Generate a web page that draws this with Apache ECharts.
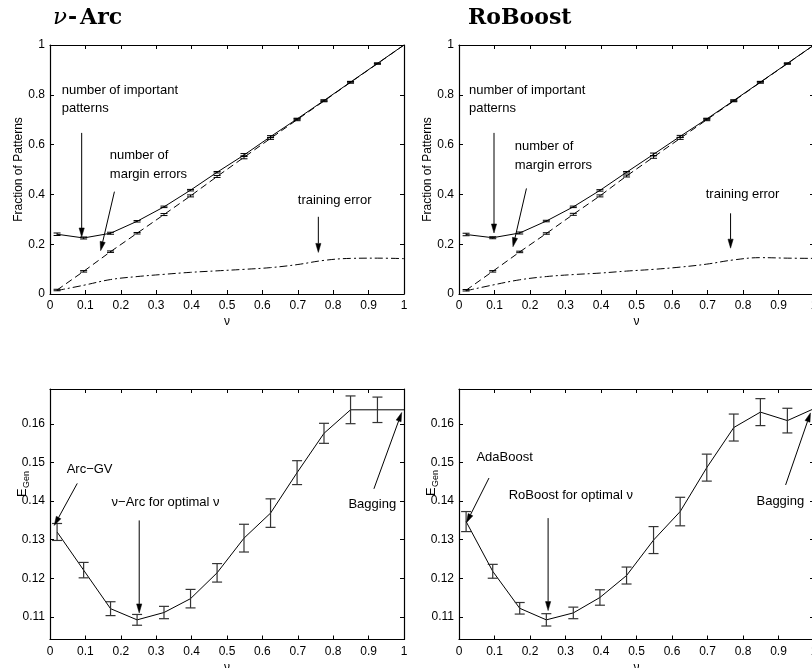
<!DOCTYPE html>
<html>
<head>
<meta charset="utf-8">
<script src="https://cdn.jsdelivr.net/npm/echarts@6/dist/echarts.min.js"></script>
<style>
  html, body { margin: 0; padding: 0; background: #fff; }
  #chart { width: 812px; height: 668px; }
</style>
</head>
<body>
<div id="chart"></div>
<script>
// ν values at which the boosting runs were evaluated
const nu = [0.02, 0.095, 0.171, 0.246, 0.322, 0.397, 0.472, 0.548, 0.623, 0.698, 0.774, 0.849, 0.925, 1.0];

// ν-Arc: fraction of important patterns, margin errors and training error
const arcImportant    = [0.240, 0.225, 0.244, 0.292, 0.350, 0.417, 0.489, 0.558, 0.632, 0.703, 0.777, 0.851, 0.926, 1.0];
const arcImportantErr = [0.005, 0.004, 0.004, 0.003, 0.003, 0.003, 0.003, 0.006, 0.004, 0.003, 0.003, 0.003, 0.002, 0];
const arcMargin       = [0.016, 0.091, 0.170, 0.244, 0.319, 0.394, 0.472, 0.549, 0.625, 0.700, 0.775, 0.850, 0.925, 1.0];
const arcMarginErr    = [0.003, 0.003, 0.003, 0.003, 0.004, 0.004, 0.004, 0.006, 0.004, 0.004, 0.003, 0.003, 0.002, 0];
const arcTrain        = [0.014, 0.035, 0.058, 0.070, 0.079, 0.087, 0.093, 0.099, 0.106, 0.118, 0.135, 0.143, 0.144, 0.142];

// RoBoost: same quantities
const roImportant    = [0.239, 0.226, 0.245, 0.293, 0.350, 0.416, 0.489, 0.561, 0.633, 0.703, 0.777, 0.851, 0.926, 1.0];
const roImportantErr = [0.005, 0.004, 0.004, 0.003, 0.003, 0.003, 0.003, 0.005, 0.004, 0.003, 0.003, 0.003, 0.002, 0];
const roMargin       = [0.015, 0.091, 0.169, 0.243, 0.320, 0.394, 0.474, 0.550, 0.625, 0.700, 0.775, 0.850, 0.925, 1.0];
const roMarginErr    = [0.003, 0.003, 0.003, 0.003, 0.004, 0.004, 0.004, 0.005, 0.004, 0.004, 0.003, 0.003, 0.002, 0];
const roTrain        = [0.013, 0.036, 0.057, 0.070, 0.078, 0.084, 0.092, 0.099, 0.108, 0.120, 0.137, 0.146, 0.144, 0.143];

// Generalization error with standard error bars
const arcGen    = [0.1320, 0.1221, 0.1121, 0.1092, 0.1111, 0.1147, 0.1214, 0.1304, 0.1369, 0.1474, 0.1576, 0.1637, 0.1637, 0.1637];
const arcGenErr = [0.0022, 0.0020, 0.0018, 0.0014, 0.0016, 0.0024, 0.0024, 0.0036, 0.0037, 0.0031, 0.0026, 0.0036, 0.0033, 0];
const roGen     = [0.1347, 0.1218, 0.1122, 0.1092, 0.1110, 0.1150, 0.1207, 0.1299, 0.1373, 0.1487, 0.1591, 0.1631, 0.1609, 0.1640];
const roGenErr  = [0.0026, 0.0018, 0.0015, 0.0016, 0.0015, 0.0020, 0.0022, 0.0035, 0.0037, 0.0035, 0.0035, 0.0035, 0.0032, 0];

// tick labels
const nuTicks   = [0, 0.1, 0.2, 0.3, 0.4, 0.5, 0.6, 0.7, 0.8, 0.9, 1];
const fracTicks = [0, 0.2, 0.4, 0.6, 0.8, 1];
const genTicks  = [0.11, 0.12, 0.13, 0.14, 0.15, 0.16];

const FONT = '"Liberation Sans", Arial, Helvetica, sans-serif';
const INK = '#000';

const grids = [
  { left: 50,  top: 45,  width: 354, height: 249 },
  { left: 459, top: 45,  width: 355, height: 249 },
  { left: 50,  top: 389, width: 354, height: 250.5 },
  { left: 459, top: 389, width: 355, height: 250.5 }
];

const fmt = v => String(parseFloat(Number(v).toFixed(2)));

const xAxes = [];
const yAxes = [];
grids.forEach((g, i) => {
  const upper = i < 2;
  const frame = { show: true, onZero: false, lineStyle: { color: INK, width: 1.2 } };
  const tick = { inside: true, length: 4, lineStyle: { color: INK, width: 1 } };
  xAxes.push({
    type: 'value', gridIndex: i, position: 'bottom', min: 0, max: 1,
    axisLine: frame,
    axisTick: Object.assign({ customValues: nuTicks }, tick),
    axisLabel: { customValues: nuTicks, color: INK, fontFamily: FONT, fontSize: 12, margin: 6, formatter: fmt },
    splitLine: { show: false },
    name: 'ν', nameLocation: 'middle', nameGap: 22,
    nameTextStyle: { color: INK, fontFamily: FONT, fontSize: 12 }
  });
  xAxes.push({
    type: 'value', gridIndex: i, position: 'top', min: 0, max: 1,
    axisLine: frame,
    axisTick: Object.assign({ customValues: nuTicks }, tick),
    axisLabel: { show: false },
    splitLine: { show: false }
  });
  const yTicks = upper ? fracTicks : genTicks;
  const yMin = upper ? 0 : 0.1041;
  const yMax = upper ? 1 : 0.1691;
  yAxes.push({
    type: 'value', gridIndex: i, position: 'left', min: yMin, max: yMax,
    axisLine: frame,
    axisTick: Object.assign({ customValues: yTicks }, tick),
    axisLabel: { customValues: yTicks, color: INK, fontFamily: FONT, fontSize: 12, margin: 5, formatter: fmt },
    splitLine: { show: false },
    name: upper ? 'Fraction of Patterns' : '',
    nameLocation: 'middle', nameGap: i === 0 ? 20 : 22,
    nameTextStyle: { color: INK, fontFamily: FONT, fontSize: 12 }
  });
  yAxes.push({
    type: 'value', gridIndex: i, position: 'right', min: yMin, max: yMax,
    axisLine: frame,
    axisTick: Object.assign({ customValues: yTicks }, tick),
    axisLabel: { show: false },
    splitLine: { show: false }
  });
});

function errorBars(cap, color, width) {
  return function (params, api) {
    const x = api.value(0), y = api.value(1), e = api.value(2);
    const hi = api.coord([x, y + e]);
    const lo = api.coord([x, y - e]);
    const st = { stroke: color, lineWidth: width };
    return {
      type: 'group',
      children: [
        { type: 'line', shape: { x1: hi[0], y1: hi[1], x2: lo[0], y2: lo[1] }, style: st },
        { type: 'line', shape: { x1: hi[0] - cap, y1: hi[1], x2: hi[0] + cap, y2: hi[1] }, style: st },
        { type: 'line', shape: { x1: lo[0] - cap, y1: lo[1], x2: lo[0] + cap, y2: lo[1] }, style: st }
      ]
    };
  };
}

function pairs(vals) { return nu.map((x, i) => [x, vals[i]]); }
function triples(vals, errs) {
  return nu.map((x, i) => [x, vals[i], errs[i]]).filter(d => d[2] > 0);
}

function curve(g, vals, type, smooth) {
  return {
    type: 'line', xAxisIndex: 2 * g, yAxisIndex: 2 * g,
    data: pairs(vals), symbol: 'none', smooth: smooth || false,
    lineStyle: { color: INK, width: 1, type: type },
    silent: true, animation: false, z: 3
  };
}
function bars(g, vals, errs, cap, color, width) {
  return {
    type: 'custom', xAxisIndex: 2 * g, yAxisIndex: 2 * g,
    data: triples(vals, errs), encode: { x: 0, y: 1 },
    renderItem: errorBars(cap, color, width),
    silent: true, animation: false, z: 4
  };
}

const DASH = [7, 4];
const DASHDOT = [8, 3, 2, 3];

const series = [
  curve(0, arcImportant, 'solid'),
  bars(0, arcImportant, arcImportantErr, 3.5, INK, 1),
  curve(0, arcMargin, DASH),
  bars(0, arcMargin, arcMarginErr, 3.5, INK, 1),
  curve(0, arcTrain, DASHDOT, 0.4),

  curve(1, roImportant, 'solid'),
  bars(1, roImportant, roImportantErr, 3.5, INK, 1),
  curve(1, roMargin, DASH),
  bars(1, roMargin, roMarginErr, 3.5, INK, 1),
  curve(1, roTrain, DASHDOT, 0.4),

  curve(2, arcGen, 'solid'),
  bars(2, arcGen, arcGenErr, 5, '#333', 1.2),

  curve(3, roGen, 'solid'),
  bars(3, roGen, roGenErr, 5, '#333', 1.2)
];

const chart = echarts.init(document.getElementById('chart'), null, { renderer: 'canvas' });
chart.setOption({
  backgroundColor: '#fff',
  animation: false,
  // fixed panel boxes: labels may run past the canvas edge without resizing the plots
  grid: grids.map(g => Object.assign({ containLabel: false, outerBoundsMode: 'none' }, g)),
  xAxis: xAxes,
  yAxis: yAxes,
  series: series
});

// annotation texts, anchored at their top-left corner in data coordinates
const notes = [
  { g: 0, at: [0.033, 0.855], text: 'number of important\npatterns' },
  { g: 0, at: [0.169, 0.592], text: 'number of\nmargin errors' },
  { g: 0, at: [0.700, 0.414], text: 'training error' },
  { g: 1, at: [0.028, 0.855], text: 'number of important\npatterns' },
  { g: 1, at: [0.157, 0.628], text: 'number of\nmargin errors' },
  { g: 1, at: [0.695, 0.437], text: 'training error' },
  { g: 2, at: [0.047, 0.1507], text: 'Arc\u2212GV' },
  { g: 2, at: [0.174, 0.1421], text: 'ν\u2212Arc for optimal ν' },
  { g: 2, at: [0.843, 0.1416], text: 'Bagging' },
  { g: 3, at: [0.049, 0.1537], text: 'AdaBoost' },
  { g: 3, at: [0.140, 0.1438], text: 'RoBoost for optimal ν' },
  { g: 3, at: [0.838, 0.1422], text: 'Bagging' }
];

// arrows: tail -> head, in data coordinates
const arrows = [
  { g: 0, from: [0.0895, 0.647], to: [0.0895, 0.229] },
  { g: 0, from: [0.182, 0.411],  to: [0.143, 0.174] },
  { g: 0, from: [0.758, 0.310],  to: [0.758, 0.167] },
  { g: 1, from: [0.0986, 0.647], to: [0.0986, 0.245] },
  { g: 1, from: [0.190, 0.424],  to: [0.152, 0.190] },
  { g: 1, from: [0.765, 0.324],  to: [0.765, 0.184] },
  { g: 2, from: [0.077, 0.1446], to: [0.012, 0.1337] },
  { g: 2, from: [0.252, 0.1350], to: [0.252, 0.1110] },
  { g: 2, from: [0.915, 0.1432], to: [0.9935, 0.1630] },
  { g: 3, from: [0.0845, 0.1460], to: [0.021, 0.1344] },
  { g: 3, from: [0.251, 0.1356], to: [0.251, 0.1116] },
  { g: 3, from: [0.920, 0.1442], to: [0.990, 0.1629] }
];

function toPx(g, pt) {
  return chart.convertToPixel({ xAxisIndex: 2 * g, yAxisIndex: 2 * g }, pt);
}

const graphics = [];

notes.forEach(n => {
  const p = toPx(n.g, n.at);
  graphics.push({
    type: 'text', x: p[0], y: p[1], silent: true, z: 10,
    style: {
      text: n.text, fill: INK, fontFamily: FONT, fontSize: 13,
      lineHeight: 18.5, align: 'left', verticalAlign: 'top'
    }
  });
});

arrows.forEach(a => {
  const t = toPx(a.g, a.from);
  const h = toPx(a.g, a.to);
  const dx = h[0] - t[0], dy = h[1] - t[1];
  const len = Math.sqrt(dx * dx + dy * dy);
  const ux = dx / len, uy = dy / len;
  const L = 9, W = 2.6;
  const bx = h[0] - ux * L, by = h[1] - uy * L;
  graphics.push({
    type: 'line', silent: true, z: 10,
    shape: { x1: t[0], y1: t[1], x2: bx, y2: by },
    style: { stroke: INK, lineWidth: 1 }
  });
  graphics.push({
    type: 'polygon', silent: true, z: 10,
    shape: { points: [[h[0], h[1]], [bx - uy * W, by + ux * W], [bx + uy * W, by - ux * W]] },
    style: { fill: INK, stroke: INK, lineWidth: 0.5 }
  });
});

// panel titles
const titleRich = {
  i: { fontFamily: '"DejaVu Serif", serif', fontStyle: 'italic', fontSize: 23, fill: INK },
  b: { fontFamily: '"DejaVu Serif", serif', fontWeight: 'bold', fontSize: 22, fill: INK },
  h: { fontFamily: '"DejaVu Serif", serif', fontWeight: 'bold', fontSize: 22, fill: INK, padding: [0, 3, 0, 1] }
};
graphics.push({
  type: 'text', x: 53, y: 18, silent: true,
  style: { text: '{i|ν}{h|-}{b|Arc}', rich: titleRich, align: 'left', verticalAlign: 'middle' }
});
graphics.push({
  type: 'text', x: 468, y: 18, silent: true,
  style: { text: '{b|RoBoost}', rich: titleRich, align: 'left', verticalAlign: 'middle' }
});

// E_Gen axis names (rotated, with subscript)
[[22, 481], [431, 480]].forEach(pos => {
  graphics.push({
    type: 'group', x: pos[0], y: pos[1], rotation: Math.PI / 2, silent: true,
    children: [
      { type: 'text', x: -16, y: 0, style: { text: 'E', fill: INK, fontFamily: FONT, fontSize: 13, align: 'left', verticalAlign: 'middle' } },
      { type: 'text', x: -7, y: 5, style: { text: 'Gen', fill: INK, fontFamily: FONT, fontSize: 9, align: 'left', verticalAlign: 'middle' } }
    ]
  });
});

chart.setOption({ graphic: graphics });
</script>
</body>
</html>
